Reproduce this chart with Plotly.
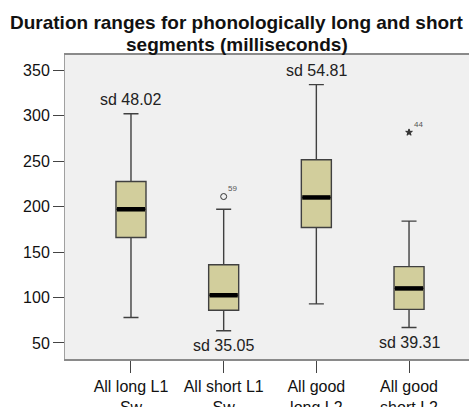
import plotly.graph_objects as go

categories = ["All long L1<br>Sw", "All short L1<br>Sw", "All good<br>long L2", "All good<br>short L2"]
q1 = [166, 86, 177, 87]
median = [197, 102.5, 210, 110]
q3 = [227.5, 136, 251.5, 134]
lower_whisker = [78, 63.5, 93, 67]
upper_whisker = [302, 197, 334, 184]
sd_labels = ["sd 48.02", "sd 35.05", "sd 54.81", "sd 39.31"]
sd_side = ["above", "below", "above", "below"]
outlier_group = [1, 3]
outlier_values = [211, 281.5]
outlier_ids = ["59", "44"]
outlier_symbols = ["circle-open", "star"]
title_lines = ["Duration ranges for phonologically long and short", "segments (milliseconds)"]

BOX_W = 0.324
FONT = "Liberation Sans, Arial, sans-serif"
pos = list(range(len(categories)))

fig = go.Figure()
for i in pos:
    fig.add_trace(go.Box(
        x=[i], q1=[q1[i]], median=[median[i]], q3=[q3[i]],
        lowerfence=[lower_whisker[i]], upperfence=[upper_whisker[i]],
        width=BOX_W, whiskerwidth=0.5,
        fillcolor="#d2ce9c", line=dict(color="#404040", width=1.4),
        boxpoints=False, showlegend=False, hoverinfo="skip",
    ))

# thick median bars
mx, my = [], []
for i in pos:
    mx += [i - BOX_W / 2 + 0.01, i + BOX_W / 2 - 0.01, None]
    my += [median[i], median[i], None]
fig.add_trace(go.Scatter(x=mx, y=my, mode="lines",
                         line=dict(color="black", width=4.5),
                         showlegend=False, hoverinfo="skip"))

# outliers
for g, v, lab, sym in zip(outlier_group, outlier_values, outlier_ids, outlier_symbols):
    fig.add_trace(go.Scatter(
        x=[g], y=[v], mode="markers",
        marker=dict(symbol=sym, size=6 if sym == "circle-open" else 5,
                    color="#333333", line=dict(color="#333333", width=1)),
        showlegend=False, hoverinfo="skip"))
    fig.add_annotation(x=g, y=v, text=lab, showarrow=False,
                       xshift=9, yshift=8, font=dict(size=8, color="#555555", family=FONT))

# sd annotations
for i in pos:
    if sd_side[i] == "above":
        fig.add_annotation(x=i, y=upper_whisker[i], text=sd_labels[i], showarrow=False,
                           yanchor="bottom", yshift=4, font=dict(size=16, color="#222222", family=FONT))
    else:
        fig.add_annotation(x=i, y=lower_whisker[i], text=sd_labels[i], showarrow=False,
                           yanchor="top", yshift=-4, font=dict(size=16, color="#222222", family=FONT))

# title (two lines, tight spacing)
for k, (line, ypx) in enumerate(zip(title_lines, [23, 45])):
    fig.add_annotation(text="<b>%s</b>" % line, showarrow=False,
                       xref="paper", yref="paper", x=(237 - 65) / 404, xanchor="center",
                       y=(359 - ypx) / 304, yanchor="middle",
                       font=dict(size=19, color="#111111", family=FONT))

fig.update_layout(
    width=469, height=407,
    margin=dict(l=65, r=0, t=55, b=48, autoexpand=False),
    paper_bgcolor="white", plot_bgcolor="#f0f0f0",
    font=dict(family=FONT, size=16, color="#222222"),
    showlegend=False,
)
fig.update_xaxes(
    range=[-0.712, 3.647], tickmode="array", tickvals=pos, ticktext=categories,
    ticks="outside", ticklen=12, tickcolor="#444444", showgrid=False, zeroline=False,
    showline=True, linecolor="#8a8a8a", linewidth=1.5, mirror=True, automargin=False,
    tickfont=dict(size=16, color="#111111", family=FONT),
)
fig.update_yaxes(
    range=[32.4, 366.6], tickvals=[50, 100, 150, 200, 250, 300, 350],
    ticks="outside", ticklen=11, tickcolor="#444444", showgrid=False, zeroline=False,
    showline=True, linecolor="#a0a0a0", linewidth=1, automargin=False,
    tickfont=dict(size=16, color="#111111", family=FONT),
)

fig.write_html("out.html")
